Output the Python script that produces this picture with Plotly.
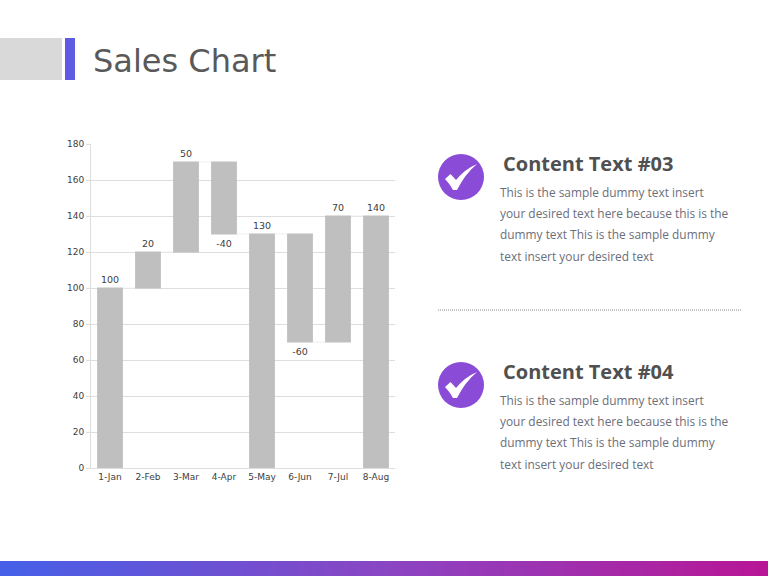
import plotly.graph_objects as go

categories = ["1-Jan", "2-Feb", "3-Mar", "4-Apr", "5-May", "6-Jun", "7-Jul", "8-Aug"]
values = [100, 20, 50, -40, 130, -60, 70, 140]
measures = ["absolute", "relative", "relative", "relative", "absolute", "relative", "relative", "absolute"]
tick_values = list(range(0, 181, 20))
title_text = "Sales Chart"
body_lines = ["This is the sample dummy text insert", "your desired text here because this is the",
              "dummy text This is the sample dummy", "text insert your desired text"]
headings = ["Content Text #03", "Content Text #04"]
heading_y = [163.5, 371.5]
W, H = 768, 576
BAR = "#bfbfbf"
GRID = "#dedede"
TICK = "#404040"


def px(x):
    return x / W


def py(y):
    return 1 - y / H


def lerp(a, b, t):
    return tuple(round(a[i] + (b[i] - a[i]) * t) for i in range(3))


def rect(x0, x1, y0, y1, color):
    return dict(type="rect", xref="paper", yref="paper", x0=px(x0), x1=px(x1), y0=py(y0), y1=py(y1),
                fillcolor=color, line_width=0, layer="below")


def label(x, y, text, family, size, color):
    return dict(xref="paper", yref="paper", x=px(x), y=py(y), text=text, showarrow=False, xanchor="left",
                yanchor="middle", font=dict(family=family, size=size, color=color))


fig = go.Figure()
fig.add_trace(go.Waterfall(
    x=categories, y=values, measure=measures,
    text=[str(v) for v in values], textposition="outside",
    textfont=dict(family="DejaVu Sans", size=9.5, color=TICK),
    increasing=dict(marker=dict(color=BAR, line=dict(width=0))),
    decreasing=dict(marker=dict(color=BAR, line=dict(width=0))),
    totals=dict(marker=dict(color=BAR, line=dict(width=0))),
    connector=dict(line=dict(color="#f0f0f0", width=1)),
    cliponaxis=False, showlegend=False, hoverinfo="x+y",
))

shapes = [
    rect(0, 62, 38, 80, "#d9d9d9"),
    rect(65, 75, 38, 80, "#5f5be3"),
    dict(type="line", xref="paper", yref="paper", x0=px(438), x1=px(742), y0=py(310), y1=py(310),
         line=dict(color="#8a8a8a", width=1.2, dash="1px,1px")),
]
N = 128
left, mid, right = (70, 96, 232), (138, 70, 195), (184, 22, 150)
for i in range(N):
    t = i / (N - 1)
    c = lerp(left, mid, t * 2) if t < .5 else lerp(mid, right, (t - .5) * 2)
    shapes.append(rect(i * W / N, (i + 1) * W / N + 0.5, 561, 576, "rgb(%d,%d,%d)" % c))

annotations = [label(91, 61, title_text, "DejaVu Sans", 32, "#595959")]
for head, hy in zip(headings, heading_y):
    c = hy + 13.5
    shapes.append(dict(type="circle", xref="paper", yref="paper", x0=px(438), x1=px(484), y0=py(c - 23), y1=py(c + 23),
                       fillcolor="#8a4bd6", line_width=0))
    pts = [(445, c + 2), (450.5, c - 3), (456, c + 3), (465, c - 8), (477, c - 13), (465, c - 3), (457, c + 13),
           (453, c + 13), (450, c + 7), (445, c + 2)]
    f = lambda p: f"{px(p[0])} {py(p[1])}"
    path = (f"M {f(pts[0])} L {f(pts[1])} L {f(pts[2])} Q {f(pts[3])} {f(pts[4])} Q {f(pts[5])} {f(pts[6])} "
            f"L {f(pts[7])} Q {f(pts[8])} {f(pts[9])} Z")
    shapes.append(dict(type="path", xref="paper", yref="paper", fillcolor="#ffffff", line_width=0, path=path))
    annotations.append(label(500.5, hy, f"<b>{head}</b>", "Open Sans", 20, "#505050"))
    for k, line in enumerate(body_lines):
        annotations.append(label(497.5, hy + 28.5 + k * 21.2, line, "Open Sans", 11.9, "#6b6f7b"))

fig.update_layout(
    width=W, height=H, margin=dict(l=0, r=0, t=0, b=0, autoexpand=False), autosize=False,
    paper_bgcolor="#ffffff", plot_bgcolor="#ffffff",
    showlegend=False, waterfallgap=0.32,
    shapes=shapes, annotations=annotations,
    xaxis=dict(domain=[px(91), px(395)], anchor="y", type="category", showgrid=False, ticks="", showline=True,
               linecolor=GRID, linewidth=1, tickfont=dict(family="DejaVu Sans", size=9, color=TICK), ticklen=0),
    yaxis=dict(domain=[py(468), py(144)], anchor="x", range=[0, 180], tickvals=tick_values, showgrid=True,
               gridcolor=GRID, gridwidth=1, zeroline=False, showline=True, linecolor=GRID, linewidth=1,
               ticks="outside", ticklen=4, tickcolor=GRID,
               tickfont=dict(family="DejaVu Sans", size=9, color=TICK)),
)
fig.write_html("out.html", config=dict(displayModeBar=False),
               post_script="document.body.style.margin='0';document.documentElement.style.overflow='hidden';")
